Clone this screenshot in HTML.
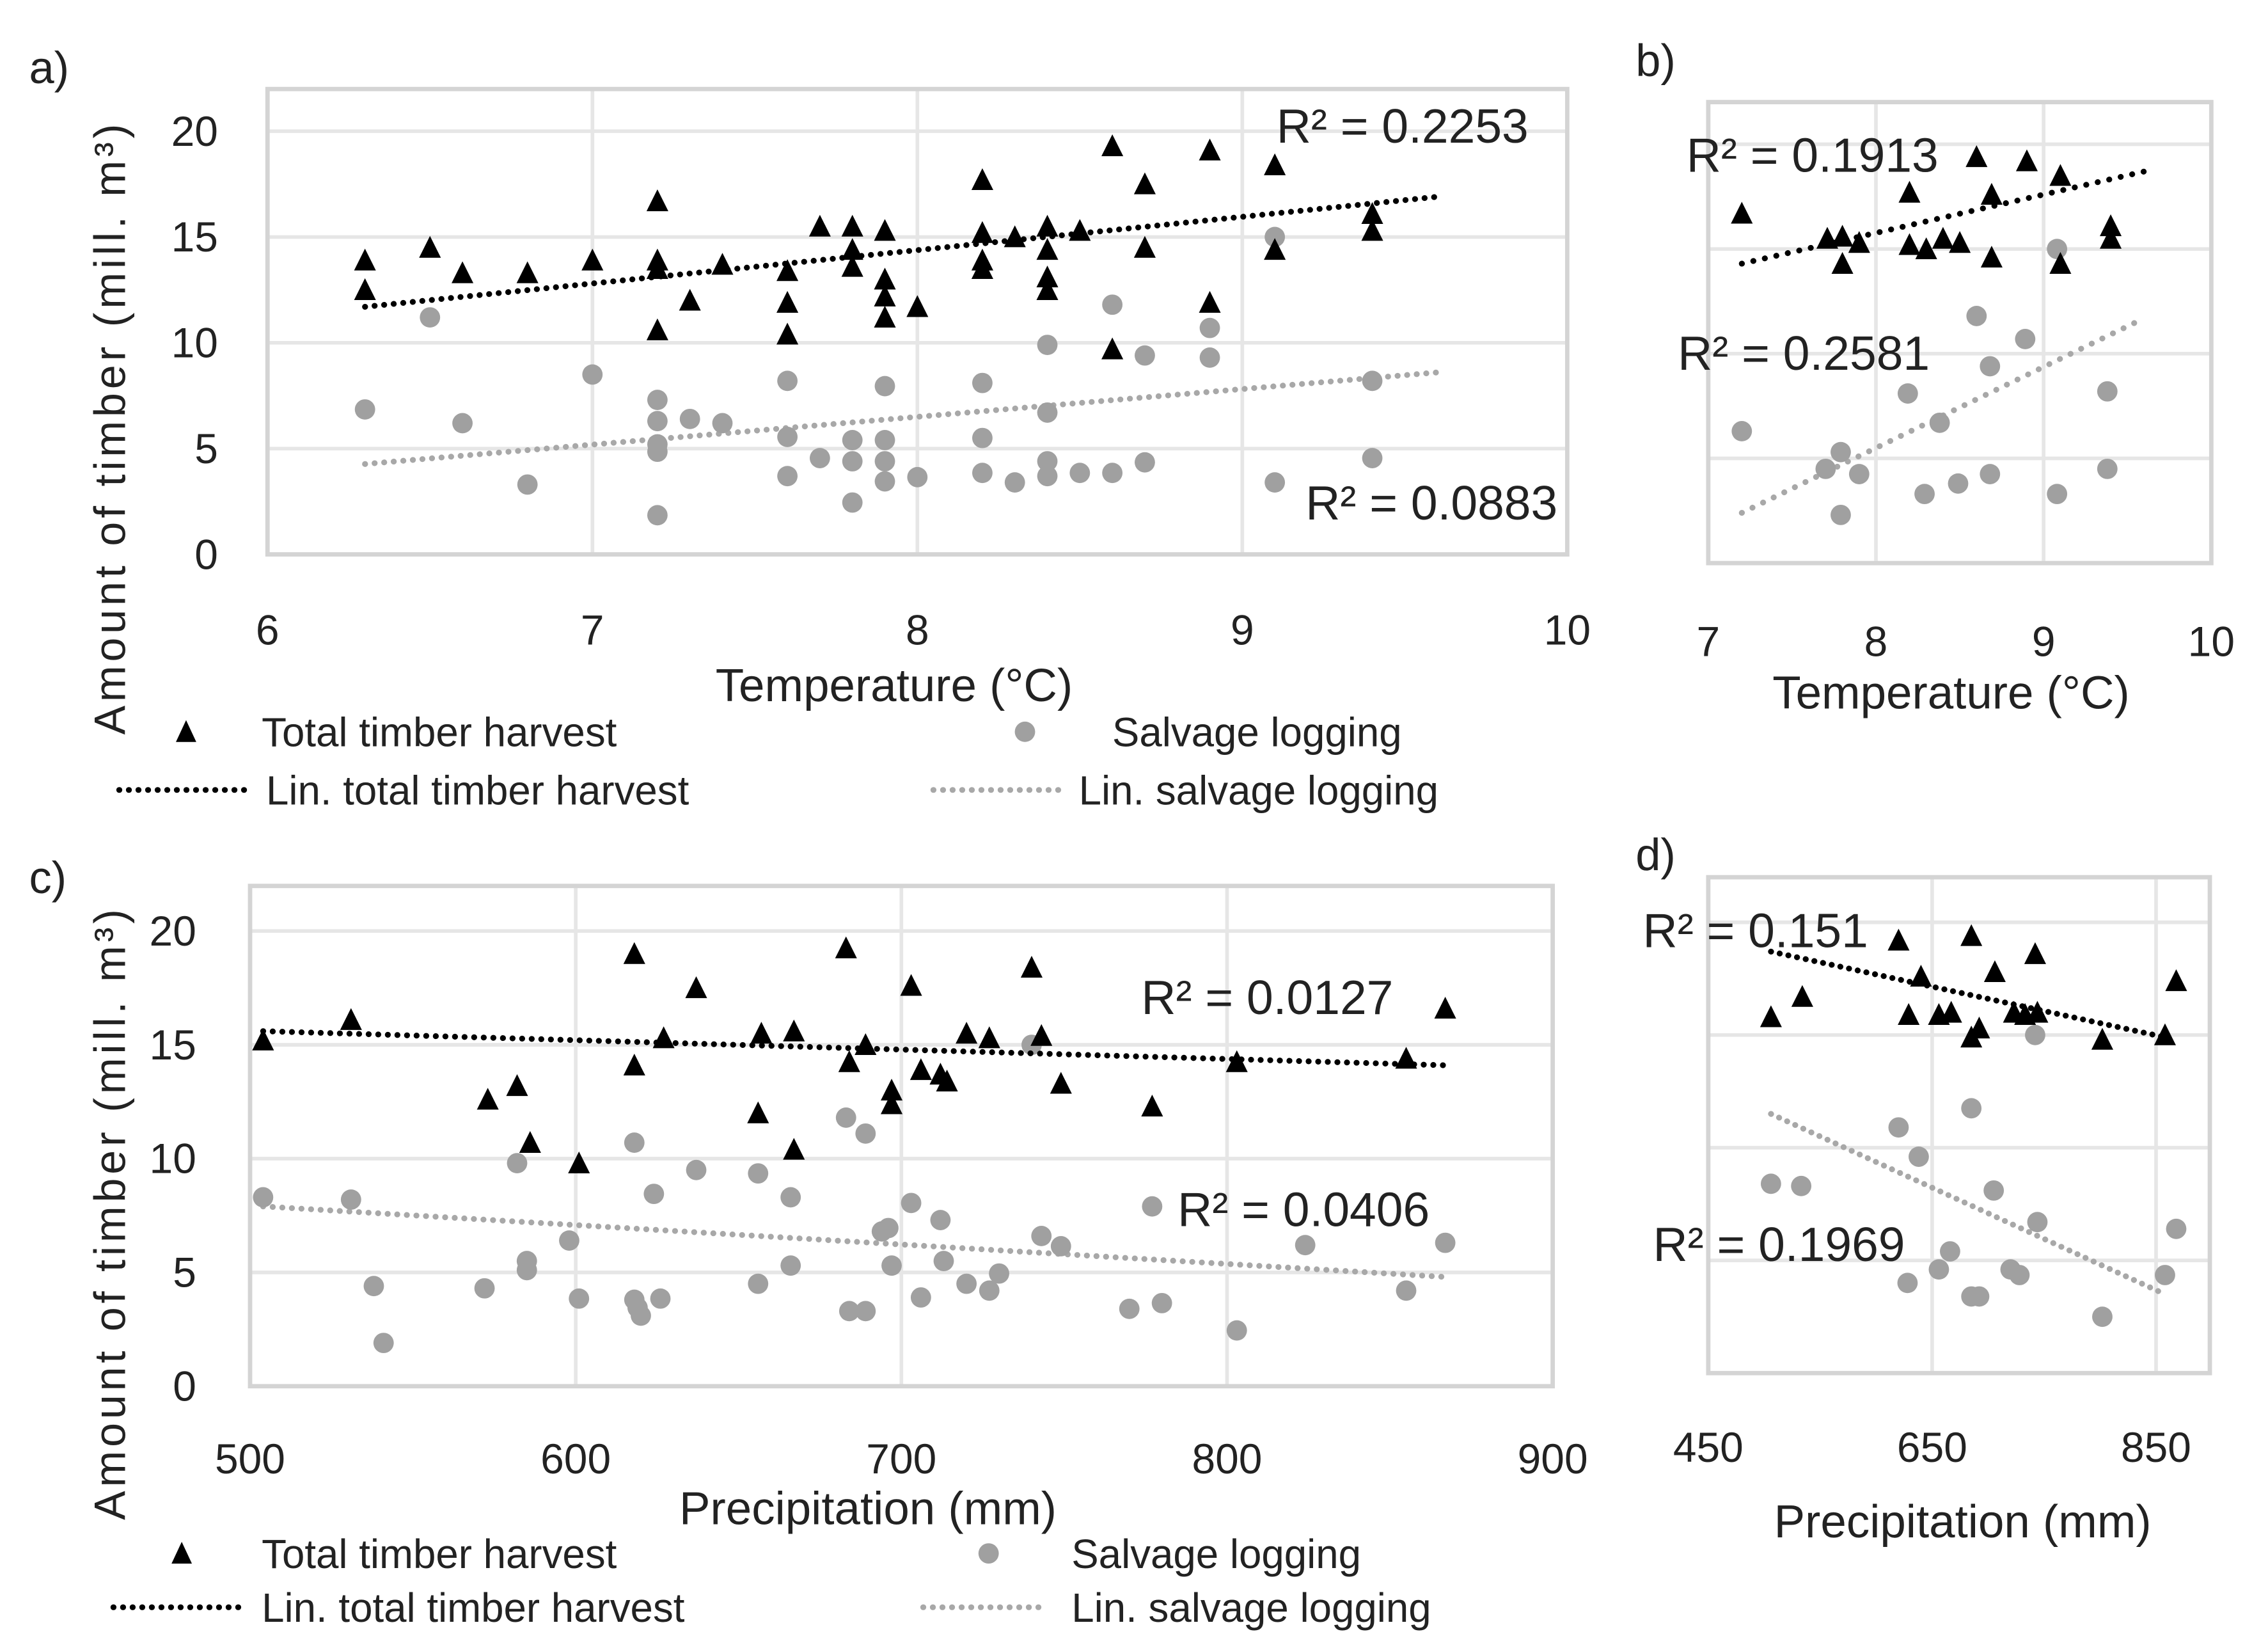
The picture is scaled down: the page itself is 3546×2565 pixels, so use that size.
<!DOCTYPE html>
<html><head><meta charset="utf-8">
<style>
html,body{margin:0;padding:0;background:#fff;}
svg{display:block;}
text{font-family:"Liberation Sans Narrow","Liberation Sans",sans-serif;fill:#222;}
</style></head>
<body>
<svg id="fig" width="3546" height="2565" viewBox="0 0 1560 1128" xmlns="http://www.w3.org/2000/svg"></svg>
<script>
// Panel a: temperature vs timber
const aTotalX=[6.3,6.3,6.5,6.6,6.8,7.0,7.2,7.2,7.2,7.2,7.3,7.4,7.6,7.6,7.6,7.7,7.8,7.8,7.8,7.9,7.9,7.9,7.9,8.0,8.2,8.2,8.2,8.2,8.3,8.4,8.4,8.4,8.4,8.5,8.6,8.6,8.7,8.7,8.9,8.9,9.1,9.1,9.4,9.4];
const aTotalY=[13.9,12.5,14.5,13.3,13.3,13.9,16.7,13.9,13.5,10.6,12.0,13.7,13.4,11.9,10.4,15.5,15.5,14.4,13.6,15.3,13.0,12.2,11.2,11.7,17.7,15.2,13.9,13.5,15.0,15.5,14.4,13.1,12.5,15.3,19.3,9.7,17.5,14.5,19.1,11.9,18.4,14.4,16.1,15.3];
const aSalvX=[6.3,6.5,6.6,6.8,7.0,7.2,7.2,7.2,7.2,7.2,7.3,7.4,7.6,7.6,7.6,7.7,7.8,7.8,7.8,7.9,7.9,7.9,7.9,8.0,8.2,8.2,8.2,8.3,8.4,8.4,8.4,8.4,8.5,8.6,8.6,8.7,8.7,8.9,8.9,9.1,9.1,9.4,9.4];
const aSalvY=[6.85,11.2,6.2,3.3,8.5,7.3,6.3,5.2,4.85,1.85,6.4,6.2,8.2,5.55,3.7,4.55,5.4,4.4,2.45,7.95,5.4,4.4,3.45,3.65,8.1,5.5,3.85,3.4,9.9,6.7,4.4,3.7,3.85,11.8,3.85,9.4,4.35,10.7,9.3,15.0,3.4,8.2,4.55];
const aTrendTotal=[[6.3,11.7],[9.6,16.9]];
const aTrendSalv=[[6.3,4.27],[9.6,8.6]];
const aXTicks=[6,7,8,9,10];
const yTicks=[0,5,10,15,20];

// Panel b
const bTotalX=[7.2,7.71,7.8,7.9,7.8,8.2,8.2,8.3,8.4,8.5,8.6,8.69,8.69,8.9,9.1,9.1,9.4,9.4];
const bTotalY=[16.7,15.5,15.6,15.3,14.3,17.7,15.2,15.0,15.5,15.3,19.4,17.6,14.6,19.2,18.5,14.3,16.1,15.5];
const bSalvX=[7.2,7.79,7.7,7.9,7.79,8.19,8.38,8.29,8.49,8.6,8.68,8.68,8.89,9.08,9.08,9.38,9.38];
const bSalvY=[6.3,5.3,4.5,4.25,2.3,8.1,6.7,3.3,3.8,11.8,9.4,4.25,10.7,15.0,3.3,8.2,4.5];
const bTrendTotal=[[7.2,14.3],[9.6,18.7]];
const bTrendSalv=[[7.2,2.4],[9.55,11.5]];
const bXTicks=[7,8,9,10];

// Panel c: precipitation
const cTotalX=[504,531,573,582,586,601,618,618,627,637,656,657,667,667,683,684,689,697,697,703,706,712,714,720,727,740,743,749,777,803,855,867];
const cTotalY=[15.2,16.1,12.6,13.2,10.7,9.8,14.1,19.0,15.3,17.5,12.0,15.5,15.6,10.4,19.25,14.25,15.0,13.0,12.4,17.6,13.9,13.7,13.4,15.5,15.3,18.4,15.4,13.3,12.3,14.25,14.4,16.6];
const cSalvX=[504,531,538,541,572,582,585,585,598,601,618,618,619,620,624,626,637,656,656,666,666,683,684,689,689,694,696,697,703,706,712,713,720,727,730,740,743,749,770,780,777,803,824,855,867];
const cSalvY=[8.3,8.2,4.4,1.9,4.3,9.8,5.5,5.1,6.4,3.85,10.7,3.8,3.45,3.1,8.45,3.85,9.5,9.35,4.5,8.3,5.3,11.8,3.3,3.3,11.1,6.8,6.95,5.3,8.05,3.9,7.3,5.5,4.5,4.2,4.95,15.0,6.6,6.15,3.4,3.65,7.9,2.45,6.2,4.2,6.3];
const cTrendTotal=[[504,15.6],[867,14.1]];
const cTrendSalv=[[504,7.9],[867,4.8]];
const cXTicks=[500,600,700,800,900];

// Panel d
const dTotalX=[506,534,620,629,640,656,667,685,685,692,706,723,733,742,744,802,858,868];
const dTotalY=[15.8,16.7,19.2,15.9,17.6,15.9,16.0,19.4,14.9,15.3,17.8,16.0,15.9,18.6,16.0,14.8,15.0,17.4];
const dSalvX=[506,533,620,628,638,656,666,685,685,692,705,720,728,744,742,802,858,868];
const dSalvY=[8.4,8.3,10.9,4.0,9.6,4.6,5.4,11.75,3.4,3.4,8.1,4.6,4.35,6.7,15.0,2.5,4.35,6.4];
const dTrendTotal=[[506,18.7],[858,14.9]];
const dTrendSalv=[[506,11.5],[858,3.5]];
const dXTicks=[450,650,850];

const NS="http://www.w3.org/2000/svg";
const svg=document.getElementById('fig');
function mk(tag,attrs,parent){const e=document.createElementNS(NS,tag);for(const k in attrs)e.setAttribute(k,attrs[k]);(parent||svg).appendChild(e);return e;}
function txt(s,x,y,size,anchor,parent){const t=mk('text',{x:x,y:y,'font-size':size,'text-anchor':anchor||'start'},parent);t.textContent=s;return t;}

function panel(id,cfg){
  const g=mk('g',{});
  
  
  const sx=v=>cfg.x0+(v-cfg.xmin)/(cfg.xmax-cfg.xmin)*(cfg.x1-cfg.x0);
  const sy=v=>cfg.y0+(v-0)/(20)*(cfg.y20-cfg.y0);
  // gridlines
  yTicks.forEach(t=>{if(t===0)return;const l=mk('line',{x1:cfg.fx0,x2:cfg.fx1,y1:sy(t),y2:sy(t),stroke:'#e6e6e6','stroke-width':2.5},g);
    });
  cfg.vgrid.forEach(t=>{const l=mk('line',{x1:sx(t),x2:sx(t),y1:cfg.fy0,y2:cfg.fy1,stroke:'#e6e6e6','stroke-width':2.5},g);
    });
  const fr=mk('rect',{x:cfg.fx0,y:cfg.fy0,width:cfg.fx1-cfg.fx0,height:cfg.fy1-cfg.fy0,fill:'none',stroke:'#d4d4d4','stroke-width':3},g);
  
  // y tick labels
  if(cfg.ylabels){yTicks.forEach(t=>{const e=txt(String(t),cfg.ylx,sy(t)+10,29,'end',g);
    });}
  cfg.xticks.forEach(t=>{const e=txt(String(t),sx(t),cfg.xly,29,'middle',g);
    });
  // trends
  const tl=(tr,col,name)=>{const l=mk('line',{x1:sx(tr[0][0]),y1:sy(tr[0][1]),x2:sx(tr[1][0]),y2:sy(tr[1][1]),stroke:col,'stroke-width':cfg.tw||4,'stroke-dasharray':'0.1 '+(cfg.td||6.5),'stroke-linecap':'round'},g);
    };
  tl(cfg.ts,'#a8a8a8','salvage-trendline');
  // salvage points
  cfg.sX.forEach((x,i)=>{const c=mk('circle',{cx:sx(x),cy:sy(cfg.sY[i]),r:7,fill:'#a0a0a0'},g);
    });
  tl(cfg.tt,'#000','total-trendline');
  cfg.tX.forEach((x,i)=>{const cx=sx(x),cy=sy(cfg.tY[i]);
    const p=mk('polygon',{points:(cx-7.5)+','+(cy+7)+' '+(cx+7.5)+','+(cy+7)+' '+cx+','+(cy-8),fill:'#000'},g);
    });
  return g;
}

panel('a',{x0:184,x1:1078,xmin:6,xmax:10,y0:381,y20:90,fx0:184,fx1:1078,fy0:61,fy1:381,vgrid:[7,8,9],ylabels:true,ylx:150,xticks:aXTicks,xly:443,
  tX:aTotalX,tY:aTotalY,sX:aSalvX,sY:aSalvY,tt:aTrendTotal,ts:aTrendSalv});
panel('b',{x0:1175,x1:1521,xmin:7,xmax:10,y0:387,y20:99,fx0:1175,fx1:1521,fy0:70,fy1:387,vgrid:[8,9],ylabels:false,xticks:bXTicks,xly:451,
  tX:bTotalX,tY:bTotalY,sX:bSalvX,sY:bSalvY,tt:bTrendTotal,ts:bTrendSalv,td:8});
panel('c',{x0:172,x1:1068,xmin:500,xmax:900,y0:953,y20:640,fx0:172,fx1:1068,fy0:609,fy1:953,vgrid:[600,700,800],ylabels:true,ylx:135,xticks:cXTicks,xly:1013,
  tX:cTotalX,tY:cTotalY,sX:cSalvX,sY:cSalvY,tt:cTrendTotal,ts:cTrendSalv});
panel('d',{x0:1175,x1:1483,xmin:450,xmax:850,y0:944,y20:634,fx0:1175,fx1:1520,fy0:603,fy1:944,vgrid:[650,850],ylabels:false,xticks:dXTicks,xly:1005,
  tX:dTotalX,tY:dTotalY,sX:dSalvX,sY:dSalvY,tt:dTrendTotal,ts:dTrendSalv,td:6});
</script>
<script>
// static labels
(function(){
const NS="http://www.w3.org/2000/svg";
const svg=document.getElementById('fig');
function T(s,x,y,size,name,anchor,extra){const t=document.createElementNS(NS,'text');t.setAttribute('x',x);t.setAttribute('y',y);t.setAttribute('font-size',size);t.setAttribute('text-anchor',anchor||'start');
 if(extra)for(const k in extra)t.setAttribute(k,extra[k]);
 
 
 t.textContent=s;svg.appendChild(t);return t;}
T('a)',20,57,31,'panel-a-label');
T('b)',1125,52,31,'panel-b-label');
T('c)',20,614,31,'panel-c-label');
T('d)',1125,598,31,'panel-d-label');
T('R² = 0.2253',878,98,33,'r2-a-total');
T('R² = 0.0883',898,357,33,'r2-a-salvage');
T('R² = 0.1913',1160,118,33,'r2-b-total');
T('R² = 0.2581',1154,254,33,'r2-b-salvage');
T('R² = 0.0127',785,697,33,'r2-c-total');
T('R² = 0.0406',810,843,33,'r2-c-salvage');
T('R² = 0.151',1130,651,33,'r2-d-total');
T('R² = 0.1969',1137,867,33,'r2-d-salvage');
T('Temperature (°C)',615,482,32,'x-axis-title-a','middle');
T('Temperature (°C)',1342,487,32,'x-axis-title-b','middle');
T('Precipitation (mm)',597,1048,32,'x-axis-title-c','middle');
T('Precipitation (mm)',1350,1057,32,'x-axis-title-d','middle');
T('Amount of timber (mill. m³)',0,0,30,'y-axis-title-a','middle',{transform:'translate(86,295) rotate(-90)',textLength:420,lengthAdjust:'spacing'});
T('Amount of timber (mill. m³)',0,0,30,'y-axis-title-c','middle',{transform:'translate(86,835) rotate(-90)',textLength:420,lengthAdjust:'spacing'});
function legend(y1,y2,tri,txt1,circ,txt2,l1a,l1b,lt1,l2a,l2b,lt2,p){
 const pg=document.createElementNS(NS,'polygon');pg.setAttribute('points',(tri-7)+','+(y1+7)+' '+(tri+7)+','+(y1+7)+' '+tri+','+(y1-8));pg.setAttribute('fill','#000');
 
 svg.appendChild(pg);
 T('Total timber harvest',txt1,y1+10,28,'legend-total-label-'+p);
 const c=document.createElementNS(NS,'circle');c.setAttribute('cx',circ);c.setAttribute('cy',y1);c.setAttribute('r',7);c.setAttribute('fill','#a0a0a0');
 
 svg.appendChild(c);
 T('Salvage logging',txt2,y1+10,28,'legend-salvage-label-'+p);
 [[l1a,l1b,'#000'],[l2a,l2b,'#a8a8a8']].forEach((d,i)=>{const l=document.createElementNS(NS,'line');l.setAttribute('x1',d[0]);l.setAttribute('x2',d[1]);l.setAttribute('y1',y2);l.setAttribute('y2',y2);
  l.setAttribute('stroke',d[2]);l.setAttribute('stroke-width',4);l.setAttribute('stroke-dasharray','0.1 6.5');l.setAttribute('stroke-linecap','round');
  
  svg.appendChild(l);});
 T('Lin. total timber harvest',lt1,y2+10,28,'legend-lin-total-label-'+p);
 T('Lin. salvage logging',lt2,y2+10,28,'legend-lin-salvage-label-'+p);
}
legend(503,543,128,180,705,765,82,170,183,642,730,742,'a');
legend(1068,1105,125,180,680,737,78,165,180,635,720,737,'c');
})();
</script>
</body></html>
